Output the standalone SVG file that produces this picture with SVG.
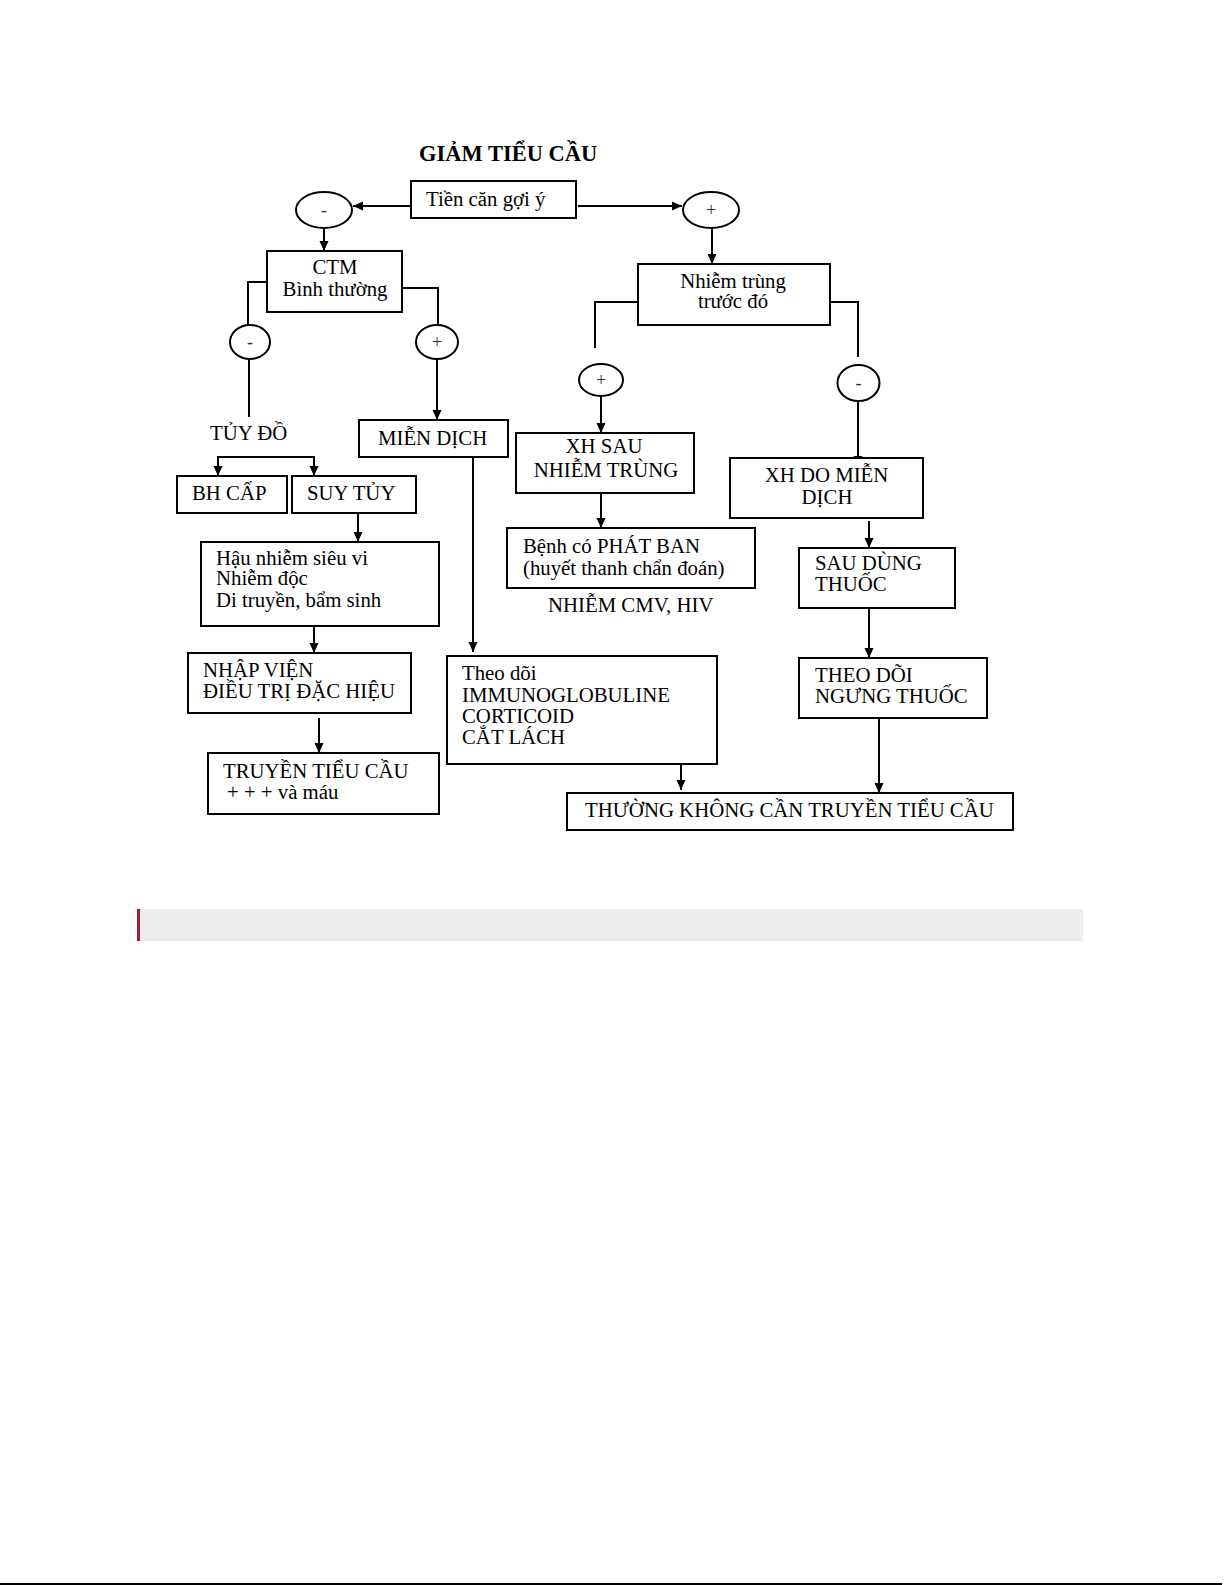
<svg xmlns="http://www.w3.org/2000/svg" width="1225" height="1585" viewBox="0 0 1225 1585">
<defs>
<marker id="arr" markerWidth="11" markerHeight="11" refX="10" refY="5" orient="auto" markerUnits="userSpaceOnUse">
<path d="M0,0.5 L10,5 L0,9.5 Z" fill="#000"/>
</marker>
</defs>
<style>
.box{fill:#fff;stroke:#000;stroke-width:2}
.ell{fill:#fff;stroke:#000;stroke-width:2}
.t{font-family:"Liberation Serif","Times New Roman",serif;font-size:20.8px;fill:#000}
.c{text-anchor:middle}
.sg{font-family:"Liberation Serif",serif;font-size:18px;fill:#333;text-anchor:middle}
.ln{fill:none;stroke:#000;stroke-width:2}
.ar{fill:none;stroke:#000;stroke-width:2;marker-end:url(#arr)}
</style>
<rect width="1225" height="1585" fill="#fff"/>
<text x="419" y="161" class="t" style="font-weight:bold;font-size:22.5px">GIẢM TIỂU CẦU</text>

<g id="connectors">
<path class="ar" d="M411,206 L353,206"/>
<path class="ar" d="M578,206 L682,206"/>
<path class="ar" d="M324,228 L324,251"/>
<path class="ar" d="M712,228 L712,264"/>
<path class="ln" d="M267,282 L248,282 L248,325"/>
<path class="ln" d="M402,288 L438,288 L438,325"/>
<path class="ln" d="M249,359 L249,417"/>
<path class="ln" d="M218,457 L314,457"/>
<path class="ar" d="M218,456 L218,476"/>
<path class="ar" d="M314,456 L314,476"/>
<path class="ar" d="M437,359 L437,420"/>
<path class="ar" d="M358,513 L358,542"/>
<path class="ar" d="M314,626 L314,653"/>
<path class="ar" d="M319,718 L319,753"/>
<path class="ar" d="M473,457 L473,652"/>
<path class="ar" d="M681,764 L681,790"/>
<path class="ln" d="M638,302 L595,302 L595,348"/>
<path class="ln" d="M830,302 L858,302 L858,357"/>
<path class="ar" d="M601,396 L601,433"/>
<path class="ar" d="M601,493 L601,528"/>
<path class="ar" d="M858,401 L858,466"/>
<path class="ar" d="M869,521 L869,548"/>
<path class="ar" d="M869,608 L869,658"/>
<path class="ar" d="M879,718 L879,793"/>
</g>

<g id="tien-can"><rect class="box" x="411" y="181" width="165" height="37"/><text class="t" x="426" y="206">Tiền căn gợi ý</text></g>
<g id="e-minus-1"><ellipse class="ell" cx="324" cy="210" rx="28" ry="18"/><text class="sg" x="324" y="216">-</text></g>
<g id="e-plus-1"><ellipse class="ell" cx="711" cy="210" rx="28" ry="18"/><text class="sg" x="711" y="216">+</text></g>
<g id="ctm"><rect class="box" x="267" y="251" width="135" height="61"/><text class="t c" x="335" y="274">CTM</text><text class="t c" x="335" y="295.5">Bình thường</text></g>
<g id="nhiem-trung"><rect class="box" x="638" y="264" width="192" height="61"/><text class="t c" x="733" y="288">Nhiễm trùng</text><text class="t c" x="733" y="308">trước đó</text></g>
<g id="e-minus-2"><ellipse class="ell" cx="250" cy="342" rx="20" ry="17"/><text class="sg" x="250" y="348">-</text></g>
<g id="e-plus-2"><ellipse class="ell" cx="437" cy="342" rx="21" ry="17"/><text class="sg" x="437" y="348">+</text></g>
<g id="e-plus-3"><ellipse class="ell" cx="601" cy="380" rx="22" ry="16"/><text class="sg" x="601" y="386">+</text></g>
<g id="e-minus-3"><ellipse class="ell" cx="858.5" cy="383" rx="21" ry="18"/><text class="sg" x="858.5" y="389">-</text></g>
<g id="tuy-do"><text class="t" x="210" y="440">TỦY ĐỒ</text></g>
<g id="mien-dich"><rect class="box" x="359" y="420" width="149" height="37"/><text class="t" x="378" y="445">MIỄN DỊCH</text></g>
<g id="bh-cap"><rect class="box" x="177" y="476" width="110" height="37"/><text class="t" x="192" y="500">BH CẤP</text></g>
<g id="suy-tuy"><rect class="box" x="292" y="476" width="124" height="37"/><text class="t" x="307" y="500">SUY TỦY</text></g>
<g id="xh-sau"><rect class="box" x="516" y="433" width="178" height="60"/><text class="t c" x="604" y="453">XH SAU</text><text class="t c" x="606" y="477">NHIỄM TRÙNG</text></g>
<g id="benh"><rect class="box" x="507" y="528" width="248" height="60"/><text class="t" x="523" y="553">Bệnh có PHÁT BAN</text><text class="t" x="523" y="575">(huyết thanh chẩn đoán)</text></g>
<g id="cmv"><text class="t" x="548" y="611.5">NHIỄM CMV, HIV</text></g>
<g id="xh-do"><rect class="box" x="730" y="458" width="193" height="60"/><text class="t c" x="826.5" y="481.5">XH DO MIỄN</text><text class="t c" x="827" y="504">DỊCH</text></g>
<g id="hau-nhiem"><rect class="box" x="201" y="542" width="238" height="84"/><text class="t" x="216" y="565">Hậu nhiễm siêu vi</text><text class="t" x="216" y="585">Nhiễm độc</text><text class="t" x="216" y="607">Di truyền, bẩm sinh</text></g>
<g id="sau-dung"><rect class="box" x="799" y="548" width="156" height="60"/><text class="t" x="815" y="570">SAU DÙNG</text><text class="t" x="815" y="591">THUỐC</text></g>
<g id="nhap-vien"><rect class="box" x="188" y="653" width="223" height="60"/><text class="t" x="203" y="677">NHẬP VIỆN</text><text class="t" x="203" y="698">ĐIỀU TRỊ ĐẶC HIỆU</text></g>
<g id="theo-doi-1"><rect class="box" x="447" y="656" width="270" height="108"/><text class="t" x="462" y="680">Theo dõi</text><text class="t" x="462" y="701.5">IMMUNOGLOBULINE</text><text class="t" x="462" y="722.5">CORTICOID</text><text class="t" x="462" y="744">CẮT LÁCH</text></g>
<g id="theo-doi-2"><rect class="box" x="799" y="658" width="188" height="60"/><text class="t" x="815" y="682">THEO DÕI</text><text class="t" x="815" y="703">NGƯNG THUỐC</text></g>
<g id="truyen"><rect class="box" x="208" y="753" width="231" height="61"/><text class="t" x="223" y="778">TRUYỀN TIỂU CẦU</text><text class="t" x="227" y="799">+ + + và máu</text></g>
<g id="thuong-khong"><rect class="box" x="567" y="793" width="446" height="37"/><text class="t" x="585" y="817">THƯỜNG KHÔNG CẦN TRUYỀN TIỂU CẦU</text></g>

<rect x="137" y="909" width="946" height="32" fill="#ededed"/>
<rect x="137" y="909" width="3" height="32" fill="#a31d33"/>
<rect x="0" y="1583" width="1222" height="2" fill="#000"/>
</svg>
